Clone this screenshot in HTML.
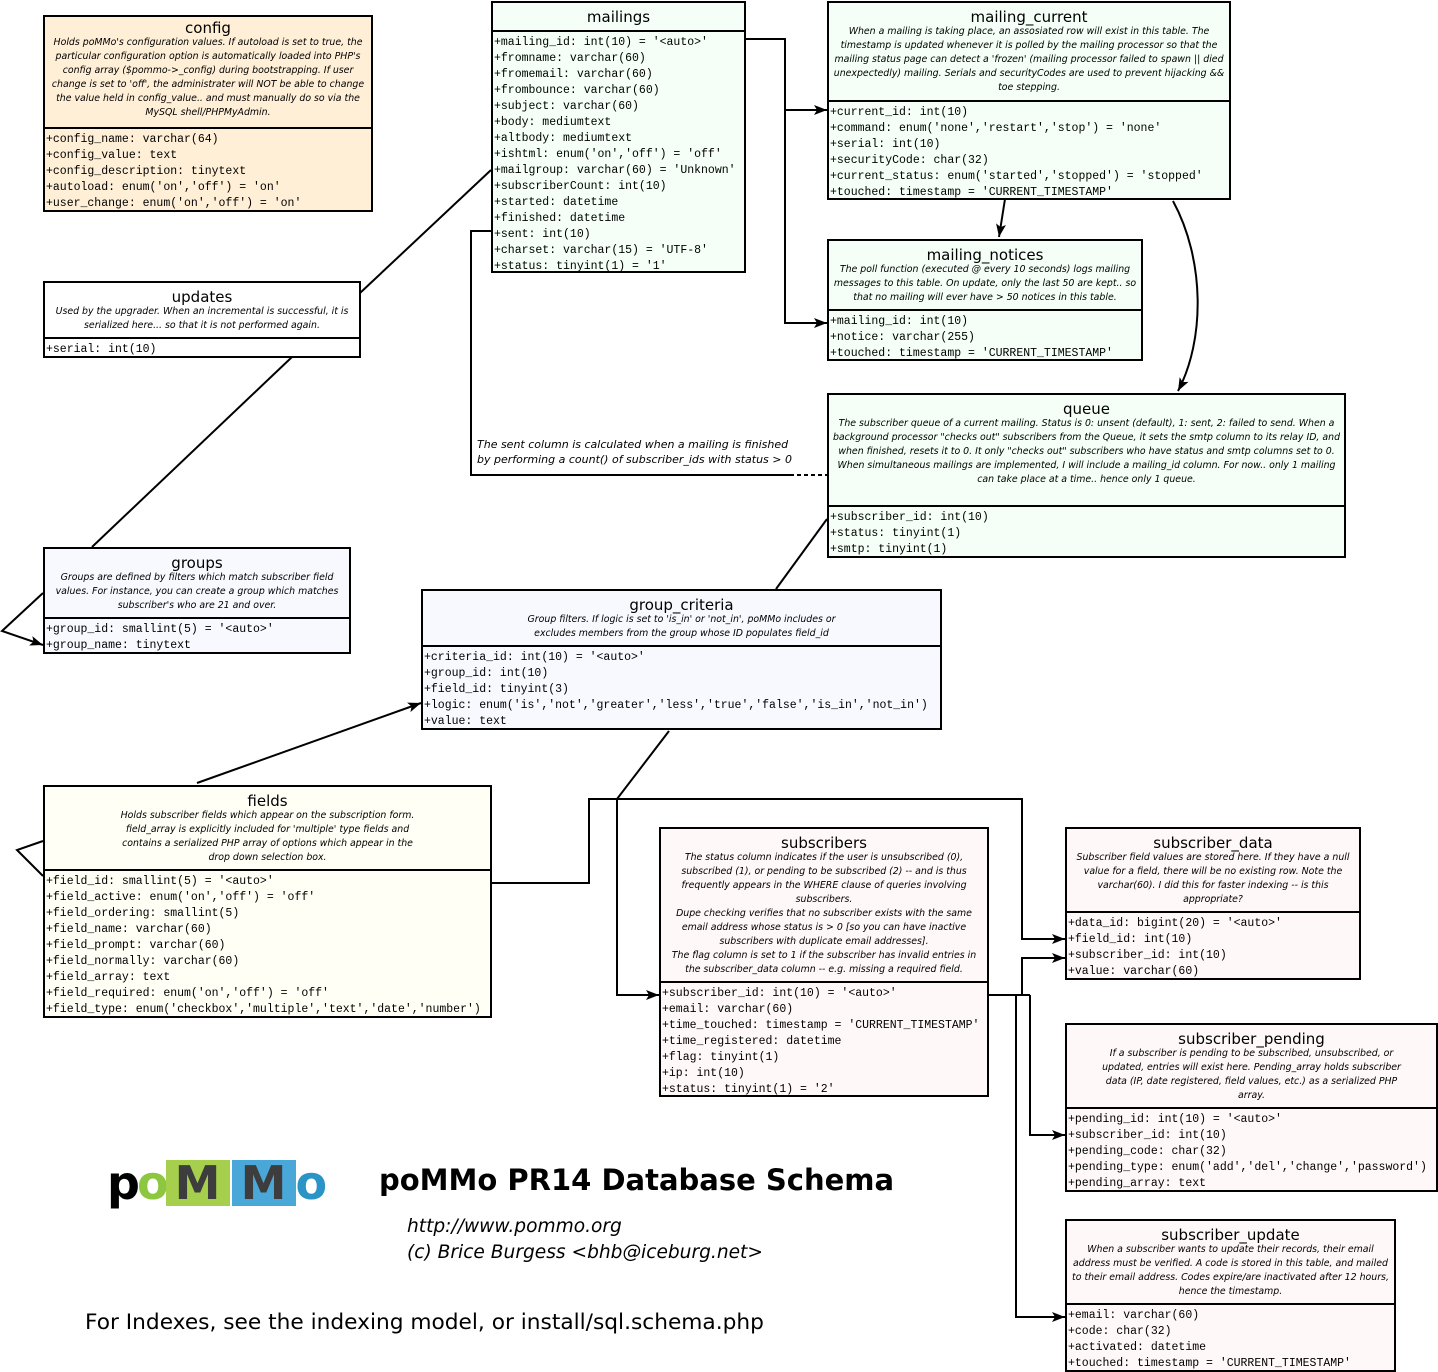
<!DOCTYPE html>
<html><head><meta charset="utf-8"><style>
body{margin:0;width:1438px;height:1372px;background:#fff;position:relative;overflow:hidden;font-family:"Liberation Sans",sans-serif}
.b{position:absolute;border:2px solid #000;box-sizing:border-box;overflow:hidden}
.h{border-bottom:2px solid #000;box-sizing:border-box;text-align:center;overflow:hidden}
.t{font-family:"DejaVu Sans",sans-serif;font-size:15px;line-height:16px;margin-top:3px}
.d{font-family:"DejaVu Sans",sans-serif;font-style:italic;font-size:9.4px;line-height:14px;padding:0 2px}
.f{font-family:"Liberation Mono",monospace;font-size:11.5px;line-height:16px;padding-left:1px;white-space:pre;margin-top:3px}
svg{position:absolute;left:0;top:0}
</style></head><body>
<svg width="1438" height="1372">
<defs><marker id="a" markerWidth="13" markerHeight="10" refX="13" refY="5" orient="auto" markerUnits="userSpaceOnUse"><path d="M0,0L13,5L0,10L3,5z" fill="#000"/></marker></defs>
<g stroke="#000" stroke-width="2" fill="none">
<path d="M745,39H785V110H827" marker-end="url(#a)"/>
<path d="M785,110V323H827" marker-end="url(#a)"/>
<path d="M1005,199L999,237" marker-end="url(#a)"/>
<path d="M1173,201C1205,260 1205,340 1178,391" marker-end="url(#a)"/>
<path d="M360,293L491,170"/>
<path d="M292,357L92,547"/>
<path d="M43,593L2,631L43,645" marker-end="url(#a)"/>
<path d="M43,841L17,850L43,876"/>
<path d="M197,783L421,703" marker-end="url(#a)"/>
<path d="M776,589L827,519"/>
<path d="M669,731L617,799"/>
<path d="M491,883H589V799H1022V939H1065" marker-end="url(#a)"/>
<path d="M617,799V995H659" marker-end="url(#a)"/>
<path d="M988,995H1030"/>
<path d="M1022,995V958H1065" marker-end="url(#a)"/>
<path d="M1030,995V1135H1065" marker-end="url(#a)"/>
<path d="M1016,995V1317H1065" marker-end="url(#a)"/>
<path d="M491,231H471V475H790"/>
<path d="M790,475H827" stroke-dasharray="4,3"/>
</g>
</svg>

<div class="b" style="left:43px;top:15px;width:330px;height:197px;background:#ffefd7">
<div class="h" style="height:112px"><div class="t">config</div><div class="d">Holds poMMo's configuration values. If autoload is set to true, the particular configuration option is automatically loaded into PHP's config array ($pommo-&gt;_config) during bootstrapping. If user change is set to 'off', the administrater will NOT be able to change the value held in config_value.. and must manually do so via the MySQL shell/PHPMyAdmin.</div></div>
<div class="f">+config_name: varchar(64)
+config_value: text
+config_description: tinytext
+autoload: enum('on','off') = 'on'
+user_change: enum('on','off') = 'on'</div></div>

<div class="b" style="left:491px;top:1px;width:255px;height:272px;background:#f5fff8">
<div class="h" style="height:29px"><div class="t" style="margin-top:6px">mailings</div></div>
<div class="f">+mailing_id: int(10) = '&lt;auto&gt;'
+fromname: varchar(60)
+fromemail: varchar(60)
+frombounce: varchar(60)
+subject: varchar(60)
+body: mediumtext
+altbody: mediumtext
+ishtml: enum('on','off') = 'off'
+mailgroup: varchar(60) = 'Unknown'
+subscriberCount: int(10)
+started: datetime
+finished: datetime
+sent: int(10)
+charset: varchar(15) = 'UTF-8'
+status: tinyint(1) = '1'</div></div>

<div class="b" style="left:827px;top:1px;width:404px;height:199px;background:#f5fff8">
<div class="h" style="height:99px"><div class="t" style="margin-top:6px">mailing_current</div><div class="d">When a mailing is taking place, an assosiated row will exist in this table. The timestamp is updated whenever it is polled by the mailing processor so that the mailing status page can detect a 'frozen' (mailing processor failed to spawn || died unexpectedly) mailing. Serials and securityCodes are used to prevent hijacking &amp;&amp; toe stepping.</div></div>
<div class="f">+current_id: int(10)
+command: enum('none','restart','stop') = 'none'
+serial: int(10)
+securityCode: char(32)
+current_status: enum('started','stopped') = 'stopped'
+touched: timestamp = 'CURRENT_TIMESTAMP'</div></div>

<div class="b" style="left:827px;top:239px;width:316px;height:122px;background:#f5fff8">
<div class="h" style="height:70px"><div class="t" style="margin-top:6px">mailing_notices</div><div class="d">The poll function (executed @ every 10 seconds) logs mailing messages to this table. On update, only the last 50 are kept.. so that no mailing will ever have &gt; 50 notices in this table.</div></div>
<div class="f">+mailing_id: int(10)
+notice: varchar(255)
+touched: timestamp = 'CURRENT_TIMESTAMP'</div></div>

<div class="b" style="left:43px;top:281px;width:318px;height:77px;background:#fff">
<div class="h" style="height:56px"><div class="t" style="margin-top:6px">updates</div><div class="d">Used by the upgrader. When an incremental is successful, it is serialized here... so that it is not performed again.</div></div>
<div class="f">+serial: int(10)</div></div>

<div class="b" style="left:827px;top:393px;width:519px;height:165px;background:#f5fff8">
<div class="h" style="height:112px"><div class="t" style="margin-top:6px">queue</div><div class="d">The subscriber queue of a current mailing. Status is 0: unsent (default), 1: sent, 2: failed to send. When a background processor "checks out" subscribers from the Queue, it sets the smtp column to its relay ID, and when finished, resets it to 0. It only "checks out" subscribers who have status and smtp columns set to 0.<br>When simultaneous mailings are implemented, I will include a mailing_id column. For now.. only 1 mailing can take place at a time.. hence only 1 queue.</div></div>
<div class="f">+subscriber_id: int(10)
+status: tinyint(1)
+smtp: tinyint(1)</div></div>

<div class="b" style="left:43px;top:547px;width:308px;height:107px;background:#f8f8ff">
<div class="h" style="height:70px"><div class="t" style="margin-top:6px">groups</div><div class="d">Groups are defined by filters which match subscriber field values. For instance, you can create a group which matches subscriber's who are 21 and over.</div></div>
<div class="f">+group_id: smallint(5) = '&lt;auto&gt;'
+group_name: tinytext</div></div>

<div class="b" style="left:421px;top:589px;width:521px;height:141px;background:#f8f8ff">
<div class="h" style="height:56px"><div class="t" style="margin-top:6px">group_criteria</div><div class="d" style="padding:0 90px">Group filters. If logic is set to 'is_in' or 'not_in', poMMo includes or excludes members from the group whose ID populates field_id</div></div>
<div class="f">+criteria_id: int(10) = '&lt;auto&gt;'
+group_id: int(10)
+field_id: tinyint(3)
+logic: enum('is','not','greater','less','true','false','is_in','not_in')
+value: text</div></div>

<div class="b" style="left:43px;top:785px;width:449px;height:233px;background:#fffff6">
<div class="h" style="height:84px"><div class="t" style="margin-top:6px">fields</div><div class="d" style="padding:0 65px">Holds subscriber fields which appear on the subscription form. field_array is explicitly included for 'multiple' type fields and contains a serialized PHP array of options which appear in the drop down selection box.</div></div>
<div class="f">+field_id: smallint(5) = '&lt;auto&gt;'
+field_active: enum('on','off') = 'off'
+field_ordering: smallint(5)
+field_name: varchar(60)
+field_prompt: varchar(60)
+field_normally: varchar(60)
+field_array: text
+field_required: enum('on','off') = 'off'
+field_type: enum('checkbox','multiple','text','date','number')</div></div>

<div class="b" style="left:659px;top:827px;width:330px;height:270px;background:#fff8f8">
<div class="h" style="height:154px"><div class="t" style="margin-top:6px">subscribers</div><div class="d">The status column indicates if the user is unsubscribed (0), subscribed (1), or pending to be subscribed (2) -- and is thus frequently appears in the WHERE clause of queries involving subscribers.<br>Dupe checking verifies that no subscriber exists with the same email address whose status is &gt; 0 [so you can have inactive subscribers with duplicate email addresses].<br>The flag column is set to 1 if the subscriber has invalid entries in the subscriber_data column -- e.g. missing a required field.</div></div>
<div class="f">+subscriber_id: int(10) = '&lt;auto&gt;'
+email: varchar(60)
+time_touched: timestamp = 'CURRENT_TIMESTAMP'
+time_registered: datetime
+flag: tinyint(1)
+ip: int(10)
+status: tinyint(1) = '2'</div></div>

<div class="b" style="left:1065px;top:827px;width:296px;height:153px;background:#fff8f8">
<div class="h" style="height:84px"><div class="t" style="margin-top:6px">subscriber_data</div><div class="d">Subscriber field values are stored here. If they have a null value for a field, there will be no existing row. Note the varchar(60). I did this for faster indexing -- is this appropriate?</div></div>
<div class="f">+data_id: bigint(20) = '&lt;auto&gt;'
+field_id: int(10)
+subscriber_id: int(10)
+value: varchar(60)</div></div>

<div class="b" style="left:1065px;top:1023px;width:373px;height:169px;background:#fff8f8">
<div class="h" style="height:84px"><div class="t" style="margin-top:6px">subscriber_pending</div><div class="d" style="padding:0 30px">If a subscriber is pending to be subscribed, unsubscribed, or updated, entries will exist here. Pending_array holds subscriber data (IP, date registered, field values, etc.) as a serialized PHP array.</div></div>
<div class="f">+pending_id: int(10) = '&lt;auto&gt;'
+subscriber_id: int(10)
+pending_code: char(32)
+pending_type: enum('add','del','change','password')
+pending_array: text</div></div>

<div class="b" style="left:1065px;top:1219px;width:331px;height:153px;background:#fff8f8">
<div class="h" style="height:84px"><div class="t" style="margin-top:6px">subscriber_update</div><div class="d">When a subscriber wants to update their records, their email address must be verified. A code is stored in this table, and mailed to their email address. Codes expire/are inactivated after 12 hours, hence the timestamp.</div></div>
<div class="f">+email: varchar(60)
+code: char(32)
+activated: datetime
+touched: timestamp = 'CURRENT_TIMESTAMP'</div></div>

<div style="position:absolute;left:477px;top:437px;font-family:'DejaVu Sans',sans-serif;font-style:italic;font-size:11px;line-height:15px">The sent column is calculated when a mailing is finished<br>by performing a count() of subscriber_ids with status &gt; 0</div>

<div style="position:absolute;left:107px;top:1160px;font-family:'DejaVu Sans',sans-serif;font-weight:bold;font-size:46px;line-height:46px;letter-spacing:-3px;white-space:nowrap">
<span style="color:#000">p</span><span style="color:#8dc63f">o</span><span style="display:inline-block;background:#a5cf4c;color:#3d3d3d;width:64px;text-align:center;letter-spacing:0">M</span><span style="display:inline-block;background:#4aa8d8;color:#3d3d3d;width:64px;text-align:center;margin-left:2px;letter-spacing:0">M</span><span style="color:#2a94c6">o</span></div>

<div style="position:absolute;left:379px;top:1162px;font-family:'DejaVu Sans',sans-serif;font-weight:bold;font-size:29px;line-height:36px">poMMo PR14 Database Schema</div>
<div style="position:absolute;left:407px;top:1214px;font-family:'DejaVu Sans',sans-serif;font-style:italic;font-size:18.6px;line-height:26px">http://www.pommo.org<br>(c) Brice Burgess &lt;bhb@iceburg.net&gt;</div>
<div style="position:absolute;left:85px;top:1309px;font-family:'DejaVu Sans',sans-serif;font-size:21.7px;line-height:28px">For Indexes, see the indexing model, or install/sql.schema.php</div>
</body></html>
